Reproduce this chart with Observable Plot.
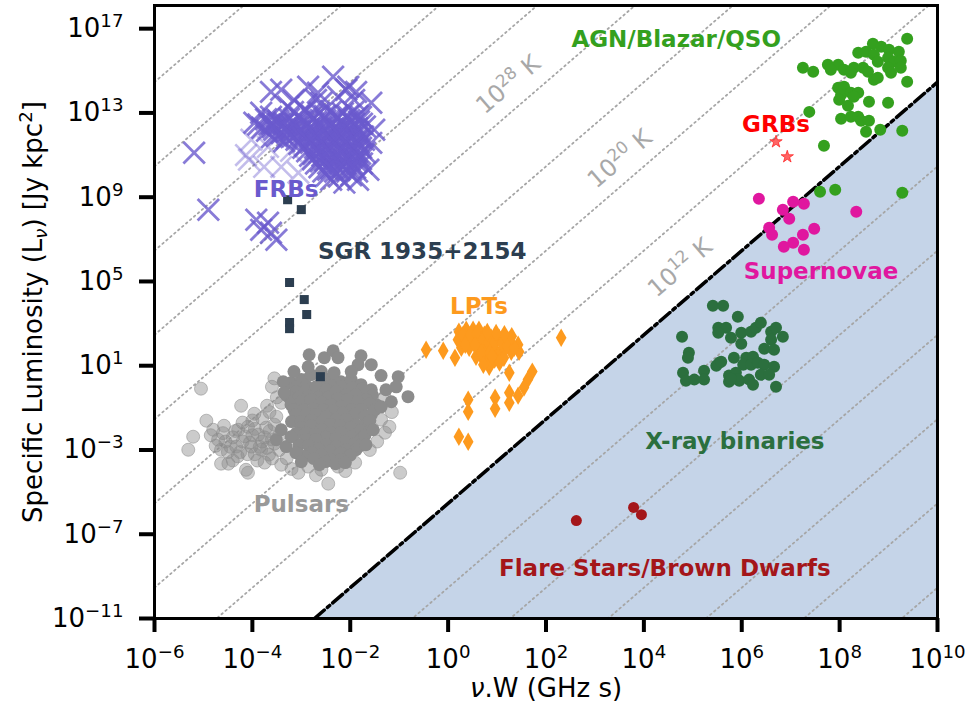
<!DOCTYPE html>
<html><head><meta charset="utf-8">
<script src="https://cdn.jsdelivr.net/npm/d3@7"></script>
<script src="https://cdn.jsdelivr.net/npm/@observablehq/plot@0.6"></script>
<style>body{margin:0;background:#fff}</style>
</head><body><div id="chart"></div>
<script>
// ---- Data: [log10(nu*W / GHz s), log10(L_nu / Jy kpc^2)] ----
const frbLog = [
  [-5.19,11.11],[-4.90,8.40],[-3.92,7.93],[-3.68,7.79],[-3.82,7.45],[-3.51,6.98],[-3.62,7.31],
  [-2.35,14.72],[-3.62,14.00],[-3.41,14.10],[-3.15,13.62],[-2.86,14.24],[-2.66,13.96],[-2.04,14.24],
  [-1.57,13.48],[-1.51,12.20],[-1.57,11.58],[-1.63,10.30],[-1.84,9.83],[-2.12,9.69],[-2.39,9.83],
  [-3.96,12.53],[-3.82,13.01],[-3.62,12.82],[-3.35,12.53],[-3.27,13.29],[-2.94,13.15],[-2.59,13.48],
  [-2.25,13.77],[-1.92,13.62],[-1.78,12.82],[-2.08,14.10],[-1.88,14.00],[-2.70,13.62],
  [-3.88,12.45],[-3.70,12.15],[-3.50,11.90],[-3.35,11.65],[-3.45,12.50],[-3.25,12.10],
  [-3.80,12.30],[-3.65,12.45],[-3.55,12.20],[-3.40,12.05],[-3.30,11.80],[-3.50,12.70],[-3.20,12.40],[-3.10,12.00],[-3.60,11.85],
  [-3.17,13.05],[-2.90,13.10],[-2.63,13.00],[-2.39,13.08],[-2.15,12.98],[-1.94,13.05],
  [-3.05,12.86],[-2.78,12.86],[-2.52,12.86],[-2.27,12.86],[-2.05,12.86],[-1.85,12.86],
  [-3.72,12.70],[-3.47,12.62],[-3.25,12.72],[-3.00,12.66],[-2.76,12.70],[-2.51,12.64],[-2.27,12.72],[-2.02,12.66],[-1.82,12.60],
  [-2.96,12.58],[-2.70,12.58],[-2.45,12.58],[-2.20,12.58],[-1.98,12.58],
  [-3.60,12.49],[-3.36,12.49],[-3.12,12.49],[-2.88,12.49],[-2.64,12.49],[-2.40,12.49],[-2.15,12.49],[-1.92,12.49],[-1.76,12.49],
  [-3.58,12.32],[-3.33,12.26],[-3.09,12.34],[-2.84,12.28],[-2.59,12.32],[-2.35,12.26],[-2.10,12.34],[-1.86,12.28],[-1.70,12.36],
  [-2.98,12.20],[-2.72,12.20],[-2.47,12.20],[-2.22,12.20],[-1.98,12.20],
  [-3.30,12.11],[-3.05,12.11],[-2.80,12.11],[-2.55,12.11],[-2.30,12.11],[-2.06,12.11],[-1.84,12.11],
  [-3.17,11.90],[-2.92,11.96],[-2.68,11.88],[-2.43,11.94],[-2.19,11.90],[-1.94,11.96],[-1.74,11.88],
  [-2.98,11.82],[-2.74,11.82],[-2.49,11.82],[-2.25,11.82],[-2.00,11.82],[-1.80,11.82],
  [-3.10,11.73],[-2.86,11.73],[-2.61,11.73],[-2.37,11.73],[-2.12,11.73],[-1.88,11.73],[-1.72,11.73],
  [-3.04,11.52],[-2.80,11.58],[-2.55,11.50],[-2.31,11.56],[-2.06,11.52],[-1.82,11.56],
  [-2.92,11.44],[-2.67,11.44],[-2.43,11.44],[-2.18,11.44],[-1.94,11.44],
  [-2.96,11.35],[-2.72,11.35],[-2.47,11.35],[-2.23,11.35],[-1.98,11.35],[-1.78,11.35],
  [-2.88,11.18],[-2.63,11.12],[-2.39,11.20],[-2.15,11.14],[-1.90,11.18],[-1.70,11.12],
  [-2.75,11.06],[-2.50,11.06],[-2.26,11.06],[-2.02,11.06],[-1.80,11.06],
  [-2.82,10.97],[-2.57,10.97],[-2.33,10.97],[-2.08,10.97],[-1.84,10.97],
  [-2.76,10.80],[-2.51,10.74],[-2.27,10.82],[-2.02,10.76],[-1.78,10.80],
  [-2.60,10.70],[-2.36,10.70],[-2.12,10.70],[-1.88,10.70],
  [-2.70,10.60],[-2.45,10.60],[-2.21,10.60],[-1.96,10.60],[-1.76,10.60],
  [-2.63,10.42],[-2.39,10.36],[-2.15,10.44],[-1.90,10.38],
  [-2.45,10.30],[-2.22,10.30],[-1.98,10.30],
  [-2.55,10.22],[-2.31,10.22],[-2.06,10.22],[-1.86,10.22],
  [-2.47,10.04],[-2.23,9.98],[-1.98,10.04]
];
const frbFaintLog = [
  [-4.02,11.73],[-4.07,10.78],[-3.76,10.44],[-3.41,10.44],[-3.68,11.39],[-3.06,10.16],[-4.13,11.00],[-3.21,11.20]
];
const sgrLog = [
  [-3.28,8.88],[-3.00,8.41],[-3.24,4.95],[-2.94,4.14],[-2.89,3.43],[-3.24,3.05],[-3.24,2.76],[-2.61,0.48]
];
const pulsarLog = [
  [-3.21,0.19],[-3.00,0.34],[-2.80,0.57],[-2.59,0.72],[-2.39,0.43],[-2.19,0.24],[-1.98,0.34],[-1.78,0.10],[-1.57,-0.14],
  [-3.10,0.00],[-2.90,0.05],[-2.60,0.20],[-2.40,0.05],[-2.18,0.00],[-1.95,-0.05],[-1.75,-0.10],[-1.55,-0.40],
  [-3.31,-0.38],[-3.11,-0.23],[-2.90,-0.14],[-2.70,0.00],[-2.49,-0.14],[-2.29,-0.23],[-2.08,-0.38],[-1.88,-0.38],[-1.68,-0.61],[-1.47,-0.85],
  [-3.25,-0.50],[-3.05,-0.50],[-2.85,-0.45],[-2.65,-0.50],[-2.45,-0.50],[-2.25,-0.55],[-2.05,-0.60],[-1.85,-0.70],[-1.60,-0.80],
  [-3.21,-0.85],[-3.00,-0.71],[-2.80,-0.61],[-2.59,-0.76],[-2.39,-0.85],[-2.19,-0.95],[-1.98,-1.09],[-1.78,-1.09],[-1.57,-1.33],
  [-3.15,-1.10],[-2.95,-1.10],[-2.75,-1.05],[-2.55,-1.10],[-2.35,-1.15],[-2.15,-1.25],[-1.90,-1.30],[-1.70,-1.40],[-1.50,-1.10],
  [-3.11,-1.33],[-2.90,-1.28],[-2.70,-1.33],[-2.49,-1.42],[-2.29,-1.56],[-2.08,-1.56],[-1.88,-1.80],[-1.68,-1.80],
  [-3.20,-1.65],[-3.00,-1.65],[-2.80,-1.60],[-2.60,-1.70],[-2.40,-1.80],[-2.20,-1.85],[-2.00,-1.95],[-1.80,-2.10],[-1.60,-1.60],
  [-3.00,-1.94],[-2.80,-1.85],[-2.59,-2.04],[-2.39,-2.18],[-2.19,-2.18],[-1.98,-2.37],[-1.78,-2.51],
  [-3.10,-2.20],[-2.90,-2.20],[-2.70,-2.25],[-2.50,-2.40],[-2.30,-2.45],[-2.10,-2.60],[-1.90,-2.70],[-1.70,-2.30],
  [-2.90,-2.51],[-2.70,-2.51],[-2.49,-2.75],[-2.29,-2.84],[-2.08,-2.99],[-1.88,-2.99],
  [-3.05,-2.75],[-2.85,-2.80],[-2.65,-2.95],[-2.40,-3.05],[-2.20,-3.15],[-2.00,-3.25],[-1.80,-2.80],
  [-2.80,-3.13],[-2.59,-3.22],[-2.39,-3.46],[-2.19,-3.46],
  [-2.95,-3.30],[-2.75,-3.40],[-2.50,-3.55],[-2.30,-3.65],[-2.10,-3.60],
  [-3.51,-2.51],[-3.31,-2.84],[-3.11,-3.13],[-3.41,-2.04],[-3.21,-2.37],[-3.00,-3.56],[-2.63,-3.70],[-1.53,-2.04],[-1.68,-2.75],
  [-3.15,0.72],[-2.84,1.52],[-2.86,0.95],[-2.53,1.38],[-2.35,1.71],[-2.25,1.38],[-1.78,1.47],[-1.57,1.05],[-1.84,1.05],
  [-1.37,0.53],[-1.02,0.48],[-0.82,-0.47],[-1.06,0.00],[-1.27,-0.14],[-1.16,-0.71],[-1.37,-0.95],[-1.98,0.72],[-2.33,0.67],
  [-3.37,0.24],[-3.35,-0.28]
];
const pulsarFaintLog = [
  [-5.05,-0.09],[-4.23,-0.90],[-4.94,-1.61],[-5.21,-2.37],[-5.31,-2.99],[-4.80,-2.04],[-4.58,-1.85],[-4.70,-2.51],
  [-4.64,-2.99],[-4.64,-3.65],[-4.49,-3.65],[-4.13,-3.94],[-4.09,-4.08],[-4.29,-2.04],[-4.09,-1.90],[-3.96,-1.28],
  [-3.88,-2.27],[-3.72,-1.94],[-4.02,-2.84],[-4.33,-2.84],[-3.82,-2.99],[-3.66,-3.22],[-3.41,-3.70],[-3.06,-4.08],
  [-2.86,-3.79],[-2.59,-3.94],[-2.45,-4.60],[-2.25,-3.79],[-2.02,-3.13],[-1.74,-2.37],[-1.29,-2.18],[-1.37,-1.56],
  [-0.98,-4.08],[-3.41,-0.76],[-3.51,-1.42],
  [-4.40,-2.40],[-4.20,-2.60],[-4.00,-2.30],[-3.80,-2.60],[-3.60,-2.50],[-3.70,-2.90],[-4.50,-3.10],[-4.30,-3.30],
  [-4.10,-3.20],[-3.90,-3.50],[-4.60,-2.20],[-3.55,-1.80],[-3.45,-2.30],[-3.60,-3.40],[-4.20,-1.70],[-3.30,-3.40],
  [-4.85,-2.30],[-4.75,-2.80],[-4.55,-2.60],[-4.45,-2.85],[-4.35,-2.10],[-4.15,-2.35],[-4.05,-2.65],[-3.95,-2.00],
  [-3.85,-2.85],[-3.75,-2.40],[-3.65,-2.10],[-3.55,-2.70],[-3.45,-3.00],[-4.25,-3.10],[-4.40,-3.50],[-3.95,-3.20],
  [-3.75,-3.60],[-4.00,-1.60],[-3.80,-1.50],[-3.65,-1.20],[-3.50,-0.50],[-3.55,0.40],
  [-1.60,-3.00],[-1.45,-2.60],[-1.20,-1.90],[-1.15,-1.20],[-1.30,-0.50],[-1.90,-3.60],[-2.70,-4.20],[-3.20,-3.90],
  [-2.10,-4.00],[-3.70,-0.90],[-3.60,0.00]
];
const lptLog = [
  [-0.45,1.76],[-0.10,1.71],[0.14,1.38],[0.22,2.61],[0.37,2.71],[0.51,2.71],[0.63,2.71],[0.20,2.23],[0.33,2.14],
  [0.47,2.23],[0.61,2.33],[0.74,2.47],[0.88,2.33],[1.04,2.33],[1.25,2.23],[1.43,2.00],[0.27,1.85],[0.43,1.85],
  [0.61,1.76],[0.78,1.85],[0.94,1.85],[1.12,1.76],[1.29,1.66],[1.45,1.66],[0.57,1.43],[0.72,1.28],[0.84,0.95],
  [1.02,1.43],[1.14,1.38],[0.82,1.19],[2.31,2.33],[1.25,0.67],[1.72,0.72],[1.63,0.34],[1.55,-0.04],[1.43,-0.42],
  [1.25,-0.28],[1.25,-0.76],[0.96,-0.52],[0.96,-1.04],[0.41,-0.61],[0.41,-1.18],[0.22,-2.37],[0.41,-2.61],
  [0.30,2.45],[0.45,2.45],[0.58,2.50],[0.70,2.20],[0.82,2.10],[0.95,2.10],[1.10,2.05],[1.20,1.95],[1.35,1.85],
  [0.35,2.00],[0.55,2.00],[0.68,1.60],[0.85,1.60],[0.95,1.30],[1.05,1.15],[0.90,1.45],[1.30,2.40],[1.15,2.50],
  [0.98,2.55],[0.80,2.60],[0.72,1.05]
];
const agnLog = [
  [9.38,16.52],[8.68,16.28],[8.85,16.14],[8.38,15.86],[8.54,15.90],[8.70,15.76],[9.01,16.00],[9.21,15.90],[8.99,15.62],
  [9.11,15.43],[9.25,15.48],[8.78,15.43],[7.25,15.14],[7.46,14.95],[7.76,15.29],[7.97,15.29],[7.82,15.05],[8.09,15.05],
  [8.29,15.14],[8.48,15.14],[8.58,14.95],[8.23,14.91],[8.99,15.14],[9.05,14.91],[9.25,15.14],[8.70,14.57],[8.78,14.67],
  [9.38,14.48],[7.97,14.19],[8.09,14.24],[8.03,13.86],[8.23,13.96],[8.38,13.96],[7.99,13.62],[8.29,13.77],[8.60,13.53],
  [8.99,13.48],[8.17,13.34],[7.38,13.05],[8.03,12.72],[8.23,12.82],[8.38,12.82],[8.44,12.63],[8.60,12.63],[8.54,12.11],
  [8.83,12.20],[9.28,12.15],[7.68,11.44],[7.60,9.26],[7.91,9.35],[9.28,9.21]
];
const grbLog = [[6.70,11.63],[6.93,10.92]];
const snLog = [
  [6.35,8.93],[6.84,8.40],[7.05,8.78],[7.27,8.69],[6.97,7.98],[6.56,7.55],[6.62,7.22],[7.48,7.50],[7.25,7.22],
  [7.05,6.84],[6.86,6.65],[7.27,6.51],[8.34,8.31]
];
const xrbLog = [
  [5.41,3.85],[5.62,3.85],[5.92,3.33],[4.78,2.38],[5.52,2.80],[5.68,2.80],[5.52,2.57],[5.78,2.33],[5.99,2.57],
  [6.19,2.61],[6.29,2.80],[6.39,3.04],[6.60,2.61],[6.70,2.80],[6.84,2.38],[6.60,2.23],[5.99,2.04],[4.92,1.62],
  [4.90,1.38],[6.46,1.81],[6.66,1.76],[5.54,1.14],[5.48,1.00],[5.84,1.38],[6.09,1.38],[6.23,1.43],[6.03,1.05],
  [6.19,1.05],[6.33,1.14],[6.46,1.05],[6.66,0.95],[5.23,0.76],[4.80,0.67],[4.86,0.29],[5.03,0.34],[5.23,0.34],
  [5.74,0.53],[5.88,0.67],[5.74,0.24],[5.95,0.29],[6.15,0.34],[6.39,0.57],[6.56,0.57],[6.70,0.00],[6.23,0.10],
  [5.92,0.34],[5.78,0.38],[5.58,1.19]
];
const flareLog = [[2.62,-6.35],[3.79,-5.73],[3.95,-6.07]];

// Brightness-temperature lines (exponents of T in K)
const tempExps = [-12,-8,-4,0,4,8,12,16,20,24,28,32,36,40,44];
const coherenceExp = 12;

// Tick values
const xTicks = [1e-6,1e-4,1e-2,1e0,1e2,1e4,1e6,1e8,1e10];
const yTicks = [1e-11,1e-7,1e-3,1e1,1e5,1e9,1e13,1e17];

// Labels (text and anchor in data units, log10)
const classLabels = [
  {text:"AGN/Blazar/QSO", lx:4.66, ly:16.47, color:"#34a01e"},
  {text:"GRBs", lx:6.70, ly:12.44, color:"#ff0000"},
  {text:"FRBs", lx:-3.31, ly:9.38, color:"#6a5acd"},
  {text:"SGR 1935+2154", lx:-0.53, ly:6.41, color:"#2c3e50"},
  {text:"LPTs", lx:0.63, ly:3.80, color:"#fd9a1e"},
  {text:"Supernovae", lx:7.62, ly:5.46, color:"#e0179f"},
  {text:"X-ray binaries", lx:5.86, ly:-2.61, color:"#2b6f3e"},
  {text:"Pulsars", lx:-3.00, ly:-5.58, color:"#999999"},
  {text:"Flare Stars/Brown Dwarfs", lx:4.43, ly:-8.62, color:"#a4161a"}
];
const tempLabels = [
  {text:"10^{28} K", lx:1.23, ly:14.34},
  {text:"10^{20} K", lx:3.51, ly:10.82},
  {text:"10^{12} K", lx:4.74, ly:5.65}
];

// ---- Build ----
const pts = a => a.map(([lx, ly]) => ({x: 10 ** lx, y: 10 ** ly}));
const kB = 1.380649e-23, kpc = 3.0857e19, Jy = 1e-26;
const lumAt = (nuW, T) => T * 2 * kB * (nuW * 1e9) ** 2 / (Jy * kpc * kpc);
const xMin = 1e-6, xMax = 1e10, yMin = 1e-11, yMax = 10 ** 18.1;
const tLines = tempExps.filter(t => t !== coherenceExp).flatMap(t => [
  {t, x: xMin, y: lumAt(xMin, 10 ** t)}, {t, x: xMax, y: lumAt(xMax, 10 ** t)}
]);
const x0 = Math.sqrt(yMin * Jy * kpc * kpc / (10 ** coherenceExp * 2 * kB)) / 1e9;
const shade = [{x: x0, y: yMin, b: yMin}, {x: xMax, y: lumAt(xMax, 10 ** coherenceExp), b: yMin}];
const fmt = d => "10^{" + String(Math.round(Math.log10(d))).replace("-", "\u2212") + "}";
const lab = a => a.map(d => ({...d, x: 10 ** d.lx, y: 10 ** d.ly}));

const svg = Plot.plot({
  width: 972, height: 710,
  marginLeft: 154, marginRight: 35, marginTop: 5, marginBottom: 92,
  style: {fontFamily: "DejaVu Sans", fontSize: "26px", background: "white", color: "black"},
  x: {type: "log", domain: [xMin, xMax]},
  y: {type: "log", domain: [yMin, yMax]},
  marks: [
    Plot.areaY(shade, {x: "x", y1: "b", y2: "y", fill: "#c5d4e8", clip: true}),
    Plot.line(tLines, {x: "x", y: "y", z: "t", stroke: "#a6a6a6", strokeWidth: 1.8, strokeDasharray: "1.6,3.6", clip: true}),
    Plot.line(shade, {x: "x", y: "y", stroke: "black", strokeWidth: 3.5, strokeDasharray: "13,4,3,4", clip: true}),
    Plot.dot(pts(pulsarFaintLog), {x: "x", y: "y", r: 6.5, fill: "#8c8c8c", fillOpacity: 0.45, stroke: "#8c8c8c", strokeOpacity: 0.55, strokeWidth: 1}),
    Plot.dot(pts(pulsarLog), {x: "x", y: "y", r: 6.5, fill: "#8c8c8c"}),
    Plot.dot(pts(frbFaintLog), {x: "x", y: "y", symbol: "times", r: 9.8, stroke: "#6a5acd", strokeOpacity: 0.4, strokeWidth: 2.6}),
    Plot.dot(pts(frbLog), {x: "x", y: "y", symbol: "times", r: 9.8, stroke: "#6a5acd", strokeOpacity: 0.8, strokeWidth: 2.8}),
    Plot.dot(pts(sgrLog), {x: "x", y: "y", symbol: "square", r: 5.1, fill: "#2c3e50"}),
    Plot.dot(pts(lptLog), {x: "x", y: "y", symbol: "diamond", r: 5.6, fill: "#fd9a1e"}),
    Plot.dot(pts(agnLog), {x: "x", y: "y", r: 6, fill: "#34a01e"}),
    Plot.dot(pts(snLog), {x: "x", y: "y", r: 6, fill: "#e0179f"}),
    Plot.dot(pts(xrbLog), {x: "x", y: "y", r: 6, fill: "#2b6f3e"}),
    Plot.dot(pts(flareLog), {x: "x", y: "y", r: 5.5, fill: "#a4161a"}),
    Plot.dot(pts(grbLog), {x: "x", y: "y", symbol: "star", r: 3.9, fill: "#ff0000", fillOpacity: 0.6, stroke: "#ff0000", strokeOpacity: 0.6, strokeWidth: 1}),
    Plot.text(lab(classLabels), {x: "x", y: "y", text: "text", fill: "color", fontWeight: "bold", fontSize: 23}),
    Plot.text(lab(tempLabels), {x: "x", y: "y", text: "text", fill: "#a8a8a8", fontSize: 24, rotate: -40.7}),
    Plot.frame({stroke: "black", strokeWidth: 3}),
    Plot.axisX({ticks: xTicks, tickFormat: fmt, tickSize: 14, tickPadding: 17, strokeWidth: 4, fontSize: 26, label: null}),
    Plot.axisY({ticks: yTicks, tickFormat: fmt, tickSize: 15, tickPadding: 16, strokeWidth: 4, fontSize: 26, label: null}),
    Plot.text(["Specific Luminosity (L_{\u03bd}) [Jy kpc^{2}]"], {frameAnchor: "left", textAnchor: "middle", dx: -121, rotate: -90, fontSize: 26, fill: "black"}),
    Plot.text(["\u03bd.W (GHz s)"], {frameAnchor: "bottom", textAnchor: "middle", dy: 78, fontSize: 26, fill: "black"})
  ]
});
document.getElementById("chart").append(svg);

// Render ^{..} superscripts, _{..} subscripts and italic nu as real tspans
const NS = "http://www.w3.org/2000/svg";
svg.querySelectorAll("text").forEach(t => {
  const s = t.textContent;
  if (!/[\^_]\{|\u03bd/.test(s)) return;
  const fs = parseFloat(getComputedStyle(t).fontSize);
  const tokens = s.split(/(\^\{[^}]*\}|_\{[^}]*\})/).filter(Boolean);
  t.textContent = "";
  let cur = 0;
  for (const tok of tokens) {
    let txt = tok, off = 0, size = null;
    if (tok.startsWith("^{")) { txt = tok.slice(2, -1); off = -0.38 * fs; size = 0.7 * fs; }
    else if (tok.startsWith("_{")) { txt = tok.slice(2, -1); off = 0.2 * fs; size = 0.7 * fs; }
    for (const p of txt.split(/(\u03bd)/).filter(Boolean)) {
      const ts = document.createElementNS(NS, "tspan");
      ts.textContent = p;
      if (size) ts.setAttribute("font-size", size);
      if (p === "\u03bd") ts.setAttribute("font-style", "italic");
      const d = off - cur;
      if (d) ts.setAttribute("dy", d);
      cur = off;
      t.appendChild(ts);
    }
  }
});
</script></body></html>
